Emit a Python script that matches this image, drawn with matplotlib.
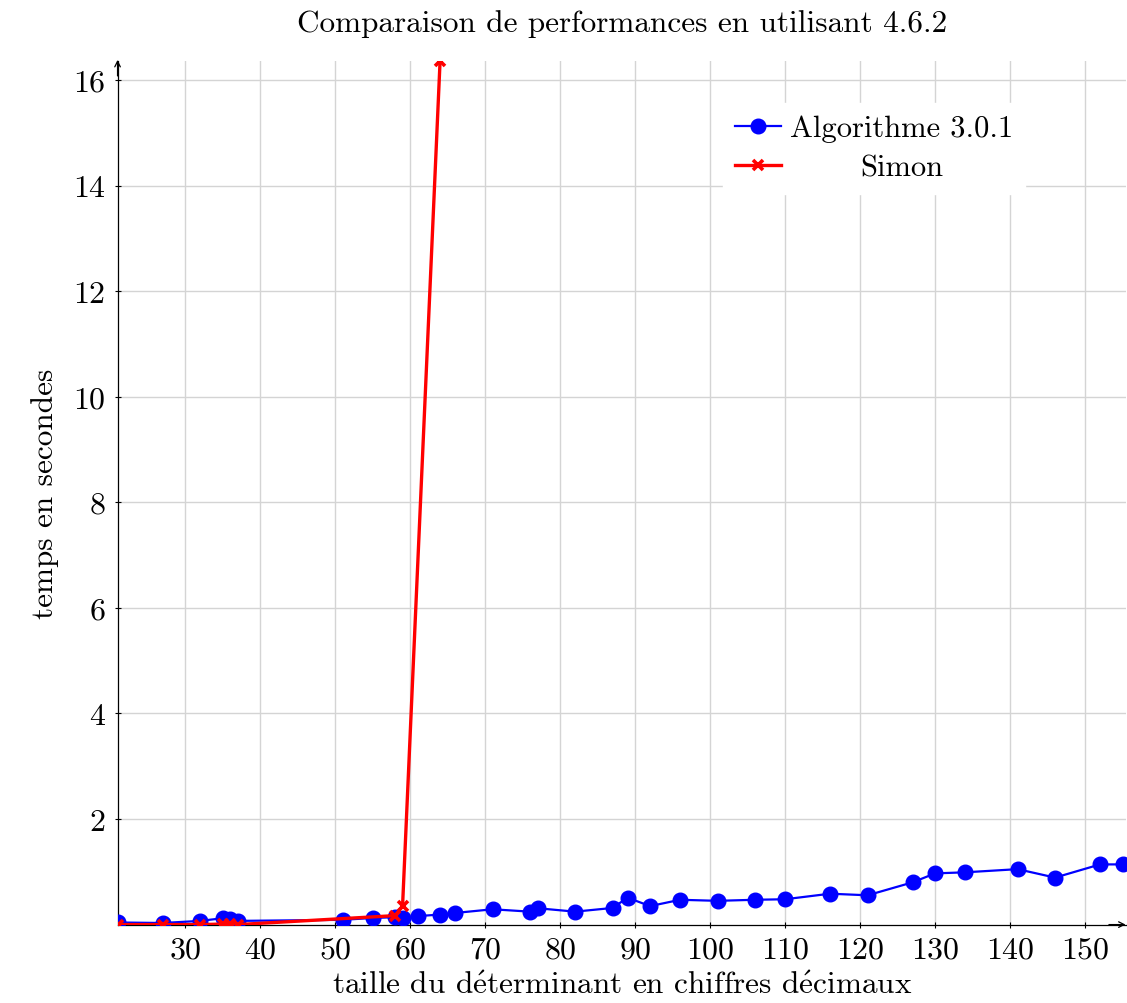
import matplotlib
matplotlib.use("Agg")
import matplotlib.pyplot as plt
from matplotlib.transforms import Affine2D

plt.rcParams['font.family'] = ['cmr10', 'DejaVu Serif']
plt.rcParams['mathtext.fontset'] = 'cm'
plt.rcParams['axes.formatter.use_mathtext'] = True

# temps mesures (secondes) selon la taille du determinant
algo_x = [21, 27, 32, 35, 36, 37, 51, 55, 58, 59, 61, 64, 66, 71, 76, 77, 82, 87, 89, 92,
          96, 101, 106, 110, 116, 121, 127, 130, 134, 141, 146, 152, 155]
algo_y = [0.04, 0.03, 0.07, 0.12, 0.11, 0.07, 0.09, 0.125, 0.14, 0.13, 0.16, 0.19, 0.22,
          0.29, 0.245, 0.31, 0.245, 0.315, 0.51, 0.35, 0.47, 0.45, 0.47, 0.48, 0.585, 0.555,
          0.80, 0.97, 0.99, 1.05, 0.89, 1.14, 1.14]
simon_x = [21, 27, 32, 35, 36, 37, 58, 59, 64]
simon_y = [0.0, 0.0, 0.0, 0.01, 0.01, 0.0, 0.17, 0.35, 16.35]

xticks = list(range(30, 151, 10))
yticks = list(range(2, 17, 2))

fig = plt.figure(figsize=(11.27, 10.04), dpi=100)
ax = fig.add_axes([0.1043, 0.0781, 0.8951, 0.8597])

ax.plot(algo_x, algo_y, color='blue', lw=1.6, marker='o', ms=10.5,
        label='Algorithme 3.0.1', zorder=3)
ax.plot(simon_x, simon_y, color='red', lw=2.4, marker='x', ms=6.5, mew=2.6,
        label='Simon', zorder=4)

ax.set_xlim(21, 155.5)
ax.set_ylim(0, 16.35)
ax.set_xticks(xticks)
ax.set_yticks(yticks)
ax.grid(True, color='#d4d4d4', lw=1.0)
ax.set_axisbelow(True)
ax.tick_params(labelsize=23, direction='inout', length=5, width=0.8, pad=6)

for s in ['top', 'right']:
    ax.spines[s].set_visible(False)
for s in ['left', 'bottom']:
    ax.spines[s].set_linewidth(0.9)

# fleches au bout des axes
ax.annotate('', xy=(1.002, 0), xytext=(0.98, 0), xycoords='axes fraction',
            arrowprops=dict(arrowstyle='->', lw=0.9, color='black'))
ax.annotate('', xy=(0, 1.005), xytext=(0, 0.98), xycoords='axes fraction',
            arrowprops=dict(arrowstyle='->', lw=0.9, color='black'))

ax.set_title('Comparaison de performances en utilisant 4.6.2', fontsize=22.5, pad=22)
ax.set_xlabel(r'taille du d$\acute{\mathrm{e}}$terminant en chiffres d$\acute{\mathrm{e}}$cimaux',
              fontsize=22.5, labelpad=5)
ax.set_ylabel('temps en secondes', fontsize=22.5, labelpad=10)

leg = ax.legend(loc='upper right', bbox_to_anchor=(0.915, 0.97), fontsize=22,
                frameon=True, fancybox=False, edgecolor='white', framealpha=1,
                handlelength=1.5, handletextpad=0.3, borderpad=0.4, labelspacing=0.38)

# centrer les libelles de la legende
fig.canvas.draw()
texts = leg.get_texts()
wmax = max(t.get_window_extent().width for t in texts)
for t in texts:
    dx = (wmax - t.get_window_extent().width) / 2
    t.set_transform(t.get_transform() + Affine2D().translate(dx, 0))

fig.savefig('out.png', dpi=100)
